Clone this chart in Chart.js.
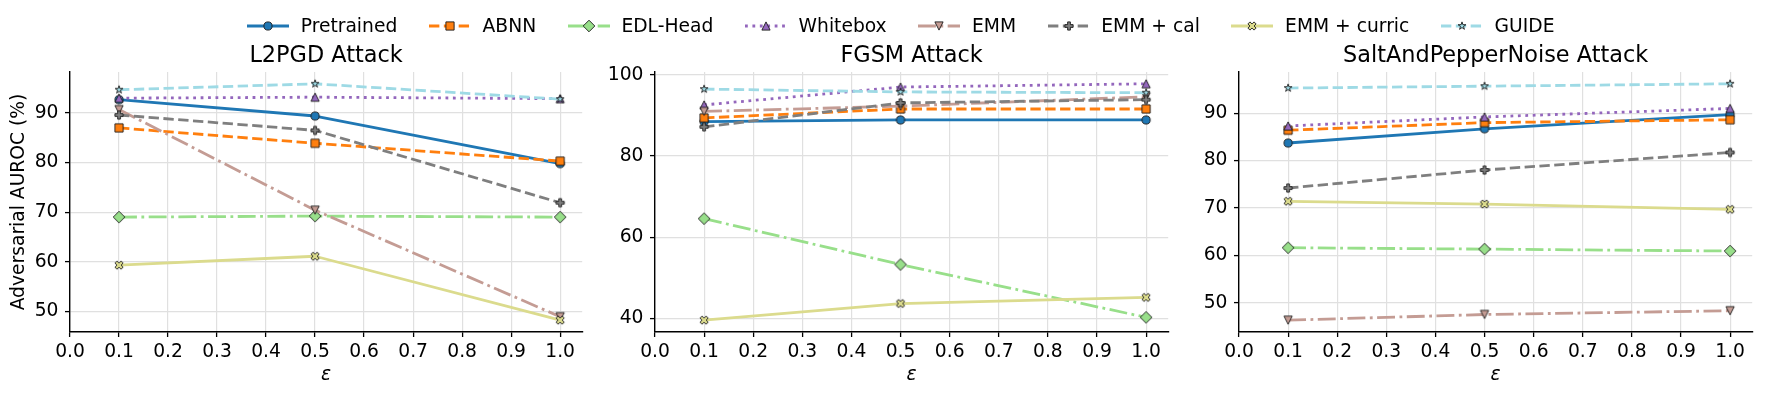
<!DOCTYPE html>
<html>
<head>
<meta charset="utf-8">
<title>Adversarial AUROC vs epsilon</title>
<script src="https://cdn.jsdelivr.net/npm/chart.js"></script>
<style>
  html, body { margin: 0; padding: 0; background: #fff; overflow: hidden; }
  #fig { position: relative; width: 1769px; height: 395px; overflow: hidden; background: #fff;
         font-family: 'DejaVu Sans', sans-serif; }
  #fig canvas.panel { position: absolute; top: 0; }
  #legend { position: absolute; left: 247px; top: 15px; display: flex; align-items: center;
            white-space: nowrap; font-size: 18.7px; line-height: 22px; color: #000; }
  .item { display: flex; align-items: center; margin-right: 31.6px; }
  .item canvas { margin-right: 11.7px; }
</style>
</head>
<body>
<div id="fig">
  <canvas id="p0" class="panel"></canvas>
  <canvas id="p1" class="panel"></canvas>
  <canvas id="p2" class="panel"></canvas>
  <div id="legend"></div>
</div>
<script>
// ---- data ----
const eps = [0.1, 0.5, 1.0];
const xTicks = [0.0, 0.1, 0.2, 0.3, 0.4, 0.5, 0.6, 0.7, 0.8, 0.9, 1.0];
const methods = ['Pretrained', 'ABNN', 'EDL-Head', 'Whitebox', 'EMM', 'EMM + cal', 'EMM + curric', 'GUIDE'];
const attacks = ['L2PGD Attack', 'FGSM Attack', 'SaltAndPepperNoise Attack'];

// one row per method, one column per epsilon
const l2pgdAuroc = [
    [92.7, 89.4, 79.8],
    [87.0, 83.9, 80.3],
    [69.0, 69.2, 69.0],
    [93.0, 93.2, 92.9],
    [90.7, 70.4, 48.9],
    [89.6, 86.5, 71.9],
    [59.3, 61.1, 48.2],
    [94.7, 95.9, 92.8]
];
const fgsmAuroc = [
    [88.5, 88.9, 88.9],
    [89.4, 91.6, 91.6],
    [64.6, 53.3, 40.3],
    [92.6, 97.0, 97.8],
    [91.0, 92.3, 94.6],
    [87.2, 93.1, 93.9],
    [39.6, 43.7, 45.2],
    [96.5, 95.8, 95.6]
];
const saltPepperAuroc = [
    [83.7, 86.7, 89.7],
    [86.4, 88.0, 88.6],
    [61.6, 61.3, 60.9],
    [87.3, 89.2, 91.0],
    [46.3, 47.5, 48.3],
    [74.2, 78.0, 81.7],
    [71.4, 70.8, 69.7],
    [95.3, 95.7, 96.2]
];
const yTicksL2pgd = [50, 60, 70, 80, 90];
const yTicksFgsm = [40, 60, 80, 100];
const yTicksSaltPepper = [50, 60, 70, 80, 90];

// ---- styles ----
const colors = ['#1f77b4', '#ff7f0e', '#98df8a', '#9467bd', '#c49c94', '#7f7f7f', '#dbdb8d', '#9edae5'];
const LW = 2.8;
const dashed = [3.7 * LW, 1.6 * LW];
const dotted = [LW, 1.65 * LW];
const dashDot = [6.4 * LW, 1.6 * LW, LW, 1.6 * LW];
const dashes = [[], dashed, dashDot, dotted, dashDot, dashed, [], dashed];
const markers = ['o', 's', 'D', '^', 'v', 'P', 'X', '*'];
const MS = 8.2;
const FONT = 18.7;

Chart.defaults.font.family = "'DejaVu Sans', sans-serif";
Chart.defaults.font.size = FONT;
Chart.defaults.color = '#000';

function shapePoints(kind) {
    if (kind === 's') return [[-.5, -.5], [.5, -.5], [.5, .5], [-.5, .5]];
    if (kind === 'D') { const d = Math.SQRT1_2; return [[0, -d], [d, 0], [0, d], [-d, 0]]; }
    if (kind === '^') return [[0, -.5], [.5, .5], [-.5, .5]];
    if (kind === 'v') return [[0, .5], [.5, -.5], [-.5, -.5]];
    if (kind === 'P') return [[-1, -3], [1, -3], [1, -1], [3, -1], [3, 1], [1, 1], [1, 3], [-1, 3], [-1, 1], [-3, 1], [-3, -1], [-1, -1]].map(p => [p[0] / 6, p[1] / 6]);
    if (kind === 'X') return [[-1, -2], [0, -1], [1, -2], [2, -1], [1, 0], [2, 1], [1, 2], [0, 1], [-1, 2], [-2, 1], [-1, 0], [-2, -1]].map(p => [p[0] / 4, p[1] / 4]);
    if (kind === '*') {
        const pts = [];
        for (let i = 0; i < 10; i++) {
            const r = i % 2 === 0 ? 0.5 : 0.5 * 0.381966;
            const a = -Math.PI / 2 + i * Math.PI / 5;
            pts.push([r * Math.cos(a), r * Math.sin(a)]);
        }
        return pts;
    }
    return null;
}

function markerCanvas(kind, fill) {
    const size = 18;
    const c = document.createElement('canvas');
    c.width = size; c.height = size;
    const g = c.getContext('2d');
    g.translate(size / 2, size / 2);
    g.beginPath();
    if (kind === 'o') {
        g.arc(0, 0, MS / 2, 0, Math.PI * 2);
    } else {
        shapePoints(kind).forEach((p, i) => {
            if (i === 0) g.moveTo(p[0] * MS, p[1] * MS); else g.lineTo(p[0] * MS, p[1] * MS);
        });
        g.closePath();
    }
    g.fillStyle = fill;
    g.fill();
    g.lineWidth = 0.9;
    g.strokeStyle = '#1a1a1a';
    g.stroke();
    return c;
}

const markerImgs = markers.map((m, i) => markerCanvas(m, colors[i]));

// ---- panels ----
const plotLeft = [70, 655, 1239];
const plotRight = [589, 1175, 1759];
const yAxisW = [70, 65, 65];
const panelValues = [l2pgdAuroc, fgsmAuroc, saltPepperAuroc];
const panelYTicks = [yTicksL2pgd, yTicksFgsm, yTicksSaltPepper];

const xMin = 0;
const xMax = eps[eps.length - 1] + 0.05 * (eps[eps.length - 1] - eps[0]);

function makePanel(p) {
    const canvas = document.getElementById('p' + p);
    const left = plotLeft[p] - yAxisW[p];
    canvas.width = plotRight[p] - left;
    canvas.height = 395;
    canvas.style.left = left + 'px';

    const values = panelValues[p];
    const all = values.flat();
    const lo = Math.min(...all), hi = Math.max(...all);
    const pad = 0.05 * (hi - lo);
    const yTicks = panelYTicks[p];

    const datasets = methods.map((name, i) => ({
        label: name,
        data: eps.map((e, k) => ({ x: e, y: values[i][k] })),
        borderColor: colors[i],
        backgroundColor: colors[i],
        borderWidth: LW,
        borderDash: dashes[i],
        borderCapStyle: 'butt',
        borderJoinStyle: 'round',
        pointStyle: markerImgs[i],
        pointRadius: 4,
        pointHoverRadius: 4,
        tension: 0,
        fill: false,
        clip: false,
        order: methods.length - 1 - i
    }));

    new Chart(canvas.getContext('2d'), {
        type: 'line',
        data: { datasets: datasets },
        options: {
            responsive: false,
            animation: false,
            devicePixelRatio: 1,
            events: [],
            layout: { padding: 0 },
            plugins: {
                legend: { display: false },
                tooltip: { enabled: false },
                title: {
                    display: true,
                    text: attacks[p],
                    fullSize: false,
                    font: { size: 22.4, weight: 'normal' },
                    color: '#000',
                    padding: { top: 42.9, bottom: 2.2 }
                }
            },
            scales: {
                x: {
                    type: 'linear',
                    min: xMin,
                    max: xMax,
                    afterBuildTicks: s => { s.ticks = xTicks.map(v => ({ value: v })); },
                    afterFit: s => { s.height = 63; },
                    ticks: {
                        callback: v => v.toFixed(1),
                        autoSkip: false,
                        maxRotation: 0,
                        padding: 4,
                        color: '#000'
                    },
                    grid: { color: '#e0e0e0', lineWidth: 1.2, tickColor: '#000', tickLength: 5, tickWidth: 1.3 },
                    border: { color: '#000', width: 1.4 },
                    title: {
                        display: true,
                        text: 'ε',
                        font: { size: FONT, style: 'italic' },
                        color: '#000',
                        padding: { top: 0, bottom: 8.8 }
                    }
                },
                y: {
                    type: 'linear',
                    min: lo - pad,
                    max: hi + pad,
                    afterBuildTicks: s => { s.ticks = yTicks.map(v => ({ value: v })); },
                    afterFit: s => { s.width = yAxisW[p]; },
                    ticks: { padding: 6.5, color: '#000' },
                    grid: { color: '#e0e0e0', lineWidth: 1.2, tickColor: '#000', tickLength: 5, tickWidth: 1.3 },
                    border: { color: '#000', width: 1.4 },
                    title: {
                        display: p === 0,
                        text: 'Adversarial AUROC (%)',
                        font: { size: FONT },
                        color: '#000',
                        padding: { top: 7.8, bottom: 0 }
                    }
                }
            }
        }
    });
}

[0, 1, 2].forEach(makePanel);

// ---- legend ----
const legend = document.getElementById('legend');
methods.forEach((name, i) => {
    const item = document.createElement('div');
    item.className = 'item';
    const sw = document.createElement('canvas');
    sw.width = 42; sw.height = 22;
    const g = sw.getContext('2d');
    g.strokeStyle = colors[i];
    g.lineWidth = LW;
    g.lineCap = 'butt';
    g.setLineDash(dashes[i]);
    g.beginPath();
    g.moveTo(0, 11);
    g.lineTo(42, 11);
    g.stroke();
    g.setLineDash([]);
    g.drawImage(markerImgs[i], 21 - 9, 11 - 9);
    const label = document.createElement('span');
    label.textContent = name;
    item.appendChild(sw);
    item.appendChild(label);
    legend.appendChild(item);
});
</script>
</body>
</html>
